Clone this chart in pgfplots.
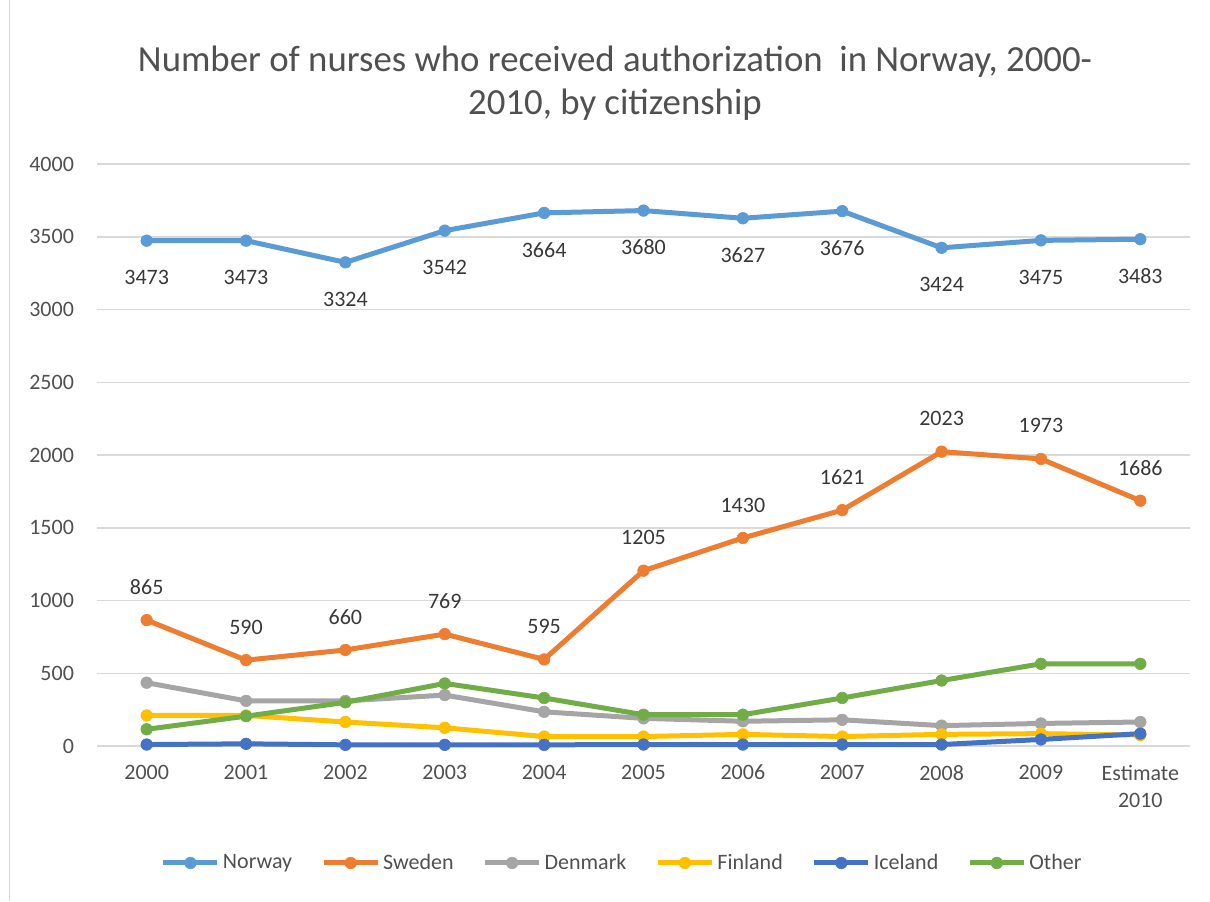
\documentclass[border=0pt]{standalone}
\usepackage{pgfplots}
\pgfplotsset{compat=1.18}
\usepackage{fontspec}
\setmainfont{Carlito}
\definecolor{cNor}{HTML}{5B9BD5}
\definecolor{cSwe}{HTML}{ED7D31}
\definecolor{cDen}{HTML}{A5A5A5}
\definecolor{cFin}{HTML}{FFC000}
\definecolor{cIce}{HTML}{4472C4}
\definecolor{cOth}{HTML}{70AD47}
\definecolor{gridc}{HTML}{D9D9D9}
\definecolor{txt}{HTML}{505050}
\definecolor{lbl}{HTML}{383838}
\begin{document}
\begin{tikzpicture}
\path[use as bounding box] (0,0) rectangle (605pt,450.5pt);
\draw[color=gridc, line width=0.6pt] (4.75pt,0) -- (4.75pt,450.5pt);
\node[anchor=base, font=\fontsize{18.4}{22}\selectfont, text=txt, inner sep=0pt] at (307.5pt,414.5pt) {Number of nurses who received authorization\ \ in Norway, 2000-};
\node[anchor=base, font=\fontsize{18.4}{22}\selectfont, text=txt, inner sep=0pt] at (307.5pt,393pt) {2010, by citizenship};
\begin{axis}[
  at={(48.5pt,77.5pt)}, anchor=south west,
  width=546.5pt, height=291pt, scale only axis,
  xmin=-0.5, xmax=10.5, ymin=0, ymax=4000,
  ytick={0,500,...,4000},
  xtick={0,1,2,3,4,5,6,7,8,9,10},
  xticklabels={2000,2001,2002,2003,2004,2005,2006,2007,2008,2009,{Estimate\\2010}},
  axis line style={draw=none},
  major tick length=0pt,
  ymajorgrids, grid style={color=gridc, line width=0.75pt},
  tick label style={font=\fontsize{11}{13.5}\selectfont, text=txt},
  xticklabel style={align=center, yshift=-6pt},
  yticklabel style={xshift=-8pt},
  /pgf/number format/.cd, 1000 sep={}, assume math mode=true, /pgfplots/.cd,
  clip=false,
  every axis plot/.append style={line width=2.5pt, mark=*, mark size=2.9pt, mark options={line width=0.3pt}},
  legend columns=6,
  legend style={at={(0.481,-0.201)}, anchor=center, draw=none, fill=none,
    font=\fontsize{11}{13}\selectfont, text=txt,
    nodes={inner sep=1.5pt},
    /tikz/every odd column/.append style={column sep=0pt},
    /tikz/every even column/.append style={column sep=13pt}},
  legend image code/.code={\draw[mark repeat=2,mark phase=2,#1] plot coordinates {(0pt,0pt) (13.5pt,0pt) (27pt,0pt)};},
  nodes near coords style={font=\fontsize{11}{13}\selectfont, text=lbl, anchor=center},
]
\addplot[color=cNor, nodes near coords, every node near coord/.append style={yshift=-18.5pt}] coordinates {(0,3473) (1,3473) (2,3324) (3,3542) (4,3664) (5,3680) (6,3627) (7,3676) (8,3424) (9,3475) (10,3483)};
\addlegendentry{Norway}
\addplot[color=cSwe, nodes near coords, every node near coord/.append style={yshift=16.5pt}] coordinates {(0,865) (1,590) (2,660) (3,769) (4,595) (5,1205) (6,1430) (7,1621) (8,2023) (9,1973) (10,1686)};
\addlegendentry{Sweden}
\addplot[color=cDen] coordinates {(0,435) (1,310) (2,310) (3,350) (4,235) (5,190) (6,170) (7,180) (8,140) (9,155) (10,165)};
\addlegendentry{Denmark}
\addplot[color=cFin] coordinates {(0,210) (1,210) (2,165) (3,125) (4,65) (5,65) (6,80) (7,65) (8,80) (9,85) (10,75)};
\addlegendentry{Finland}
\addplot[color=cIce] coordinates {(0,10) (1,15) (2,8) (3,8) (4,8) (5,10) (6,10) (7,10) (8,10) (9,45) (10,85)};
\addlegendentry{Iceland}
\addplot[color=cOth] coordinates {(0,115) (1,205) (2,300) (3,430) (4,330) (5,215) (6,215) (7,330) (8,450) (9,565) (10,565)};
\addlegendentry{Other}
\end{axis}
\end{tikzpicture}
\end{document}
